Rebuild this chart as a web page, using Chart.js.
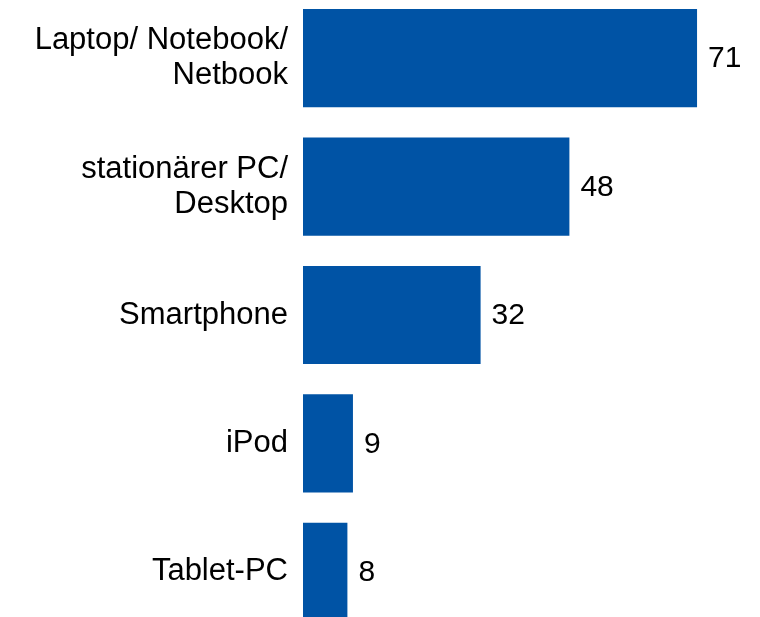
<!DOCTYPE html>
<html>
<head>
<meta charset="utf-8">
<script src="https://cdn.jsdelivr.net/npm/chart.js@4/dist/chart.umd.min.js"></script>
<style>
  html, body { margin: 0; padding: 0; background: #ffffff; overflow: hidden; width: 760px; height: 617px; }
  #wrap { position: absolute; left: 0; top: -6px; width: 760px; height: 642px; }
</style>
</head>
<body>
<div id="wrap"><canvas id="c" width="760" height="642"></canvas></div>
<script>
const categories = [
  ['Laptop/ Notebook/', 'Netbook'],
  ['stationärer PC/', 'Desktop'],
  'Smartphone',
  'iPod',
  'Tablet-PC'
];
const values = [71, 48, 32, 9, 8];

const barColor = '#0053A5';
const fontFamily = '"Liberation Sans", Arial, Helvetica, sans-serif';

const valueLabels = {
  id: 'valueLabels',
  afterDatasetsDraw(chart) {
    const ctx = chart.ctx;
    const meta = chart.getDatasetMeta(0);
    ctx.save();
    ctx.font = '30px ' + fontFamily;
    ctx.fillStyle = '#000000';
    ctx.textAlign = 'left';
    ctx.textBaseline = 'middle';
    meta.data.forEach((bar, i) => {
      ctx.fillText(String(values[i]), bar.x + 11, bar.y + 1);
    });
    ctx.restore();
  }
};

new Chart(document.getElementById('c'), {
  type: 'bar',
  data: {
    labels: categories,
    datasets: [{
      data: values,
      backgroundColor: barColor,
      borderWidth: 0,
      barPercentage: 0.765,
      categoryPercentage: 1.0
    }]
  },
  options: {
    indexAxis: 'y',
    responsive: false,
    animation: false,
    devicePixelRatio: 1,
    layout: { padding: { left: 0, right: 13, top: 0, bottom: 0 } },
    plugins: {
      legend: { display: false },
      tooltip: { enabled: false },
      title: { display: false }
    },
    scales: {
      x: {
        display: false,
        min: 0,
        max: 80
      },
      y: {
        grid: { display: false, drawTicks: false },
        border: { display: false },
        ticks: {
          autoSkip: false,
          padding: 15,
          color: '#000000',
          font: { family: fontFamily, size: 31, lineHeight: 1.13 }
        },
        afterFit(scale) {
          scale.width = 303;
          scale.paddingTop = 0;
          scale.paddingBottom = 0;
        }
      }
    }
  },
  plugins: [valueLabels]
});
</script>
</body>
</html>
